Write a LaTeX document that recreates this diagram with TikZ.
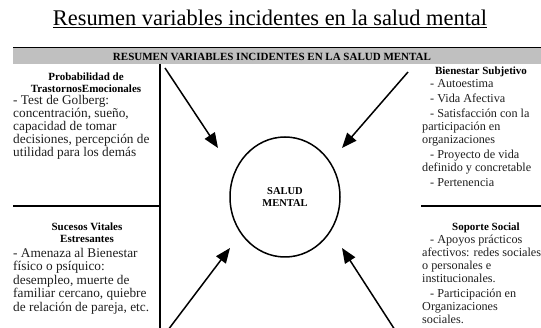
\documentclass[tikz,border=0pt]{standalone}
\usepackage{fontspec}
\setmainfont{Liberation Serif}
\usetikzlibrary{arrows.meta,shapes.geometric}
\definecolor{bargray}{RGB}{192,192,192}
\definecolor{txt}{RGB}{30,30,30}
\begin{document}
\begin{tikzpicture}[x=1pt,y=-1pt,
  body/.style={inner sep=0pt, anchor=north west, align=left, text=txt, font=\fontsize{13.3}{13}\selectfont},
  rbody/.style={body, font=\fontsize{12.2}{13}\selectfont},
  head/.style={inner sep=0pt, anchor=north, align=center, font=\bfseries\fontsize{11}{11.5}\selectfont},
  rulebar/.style={line width=2pt},
  arr/.style={line width=1.5pt, -{Triangle[length=15pt,width=12pt]}}
]
\useasboundingbox (0,0) rectangle (541,328);
% title
\node[font=\fontsize{22.4}{24}\selectfont, anchor=base, inner sep=0pt] (title) at (270,26)
  {\underline{Resumen variables incidentes en la salud mental}};
% header bar
\fill[bargray] (13,48) rectangle (541,64);
\draw[line width=1.2pt] (13,47.5) -- (541,47.5);
\node[head, anchor=center, font=\bfseries\fontsize{11}{12}\selectfont] (hdr) at (272,56.5)
  {RESUMEN VARIABLES INCIDENTES EN LA SALUD MENTAL};
% rules
\coordinate (vtop) at (160,64);
\coordinate (vbot) at (160,328);
\draw[rulebar] (vtop) -- (vbot);
\coordinate (hl1) at (13,206);
\coordinate (hl2) at (160,206);
\draw[rulebar] (hl1) -- (hl2);
\coordinate (hr1) at (421,206);
\coordinate (hr2) at (541,206);
\draw[rulebar] (hr1) -- (hr2);
% top-left
\node[head] (tlh) at (86,73) {Probabilidad de\\TrastornosEmocionales};
\node[body] (tlb) at (13,95) {- Test de Golberg:\\concentración, sueño,\\capacidad de tomar\\decisiones, percepción de\\utilidad para los demás};
% bottom-left
\node[head] (blh) at (87,223) {Sucesos Vitales\\Estresantes};
\node[body, font=\fontsize{13.3}{13.5}\selectfont] (blb) at (13,248) {- Amenaza al Bienestar\\físico o psíquico:\\desempleo, muerte de\\familiar cercano, quiebre\\de relación de pareja, etc.};
% top-right
\node[head] (trh) at (481,67) {Bienestar Subjetivo};
\node[rbody] (trb) at (422,79) {\hspace*{8pt}- Autoestima\\[2pt]\hspace*{8pt}- Vida Afectiva\\[2pt]\hspace*{8pt}- Satisfacción con la\\participación en\\organizaciones\\[2pt]\hspace*{8pt}- Proyecto de vida\\definido y concretable\\[2pt]\hspace*{8pt}- Pertenencia};
% bottom-right
\node[head] (brh) at (486,223) {Soporte Social};
\node[rbody] (brb) at (422,235) {\hspace*{8pt}- Apoyos prácticos\\afectivos: redes sociales\\o personales e\\institucionales.\\[2pt]\hspace*{8pt}- Participación en\\Organizaciones\\sociales.};
% centre
\node[ellipse, draw, line width=1.5pt, minimum width=110pt, minimum height=120pt, inner sep=0pt,
  align=center, font=\bfseries\fontsize{10.5}{12.5}\selectfont] (sm) at (285,197) {SALUD\\MENTAL};
% arrows
\coordinate (a1s) at (165,68);
\coordinate (a1e) at (218,148);
\coordinate (a2s) at (408,72);
\coordinate (a2e) at (342,148);
\coordinate (a3s) at (168,330);
\coordinate (a3e) at (230,248);
\coordinate (a4s) at (395,330);
\coordinate (a4e) at (342,248);
\draw[arr] (a1s) -- (a1e);
\draw[arr] (a2s) -- (a2e);
\draw[arr] (a3s) -- (a3e);
\draw[arr] (a4s) -- (a4e);
\end{tikzpicture}
\end{document}
